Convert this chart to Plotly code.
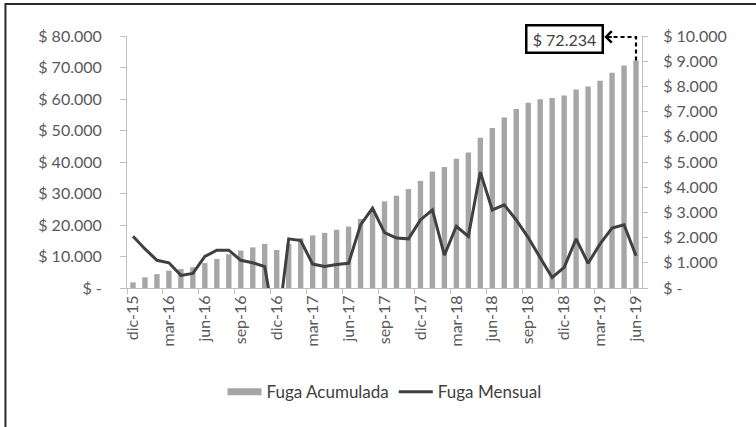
import plotly.graph_objects as go

# Months from dic-15 to jun-19
months = [
    "dic-15", "ene-16", "feb-16", "mar-16", "abr-16", "may-16", "jun-16", "jul-16",
    "ago-16", "sep-16", "oct-16", "nov-16", "dic-16", "ene-17", "feb-17", "mar-17",
    "abr-17", "may-17", "jun-17", "jul-17", "ago-17", "sep-17", "oct-17", "nov-17",
    "dic-17", "ene-18", "feb-18", "mar-18", "abr-18", "may-18", "jun-18", "jul-18",
    "ago-18", "sep-18", "oct-18", "nov-18", "dic-18", "ene-19", "feb-19", "mar-19",
    "abr-19", "may-19", "jun-19",
]

# Accumulated capital flight (left axis)
fuga_acumulada = [
    1800, 3400, 4400, 5500, 6000, 6600, 7900, 9200, 10700, 11900, 12900, 14000,
    12100, 14000, 15800, 16700, 17500, 18500, 19500, 21900, 25000, 27500, 29300,
    31400, 34000, 37000, 38400, 41000, 43000, 47700, 50800, 54100, 56800, 58800,
    59900, 60300, 61100, 63000, 64000, 65800, 68300, 70600, 72234,
]

# Monthly capital flight (right axis)
fuga_mensual = [
    2050, 1550, 1100, 1000, 500, 580, 1250, 1500, 1500, 1100, 1000, 850,
    -1900, 1950, 1880, 950, 850, 930, 980, 2500, 3170, 2200, 1980, 1950,
    2700, 3100, 1300, 2450, 2050, 4600, 3100, 3300, 2700, 2000, 1200, 420,
    820, 1950, 980, 1750, 2380, 2510, 1280,
]

left_ticks = list(range(0, 80001, 10000))
right_ticks = list(range(0, 10001, 1000))


def money(v):
    return "$ -" if v == 0 else "$ " + f"{v:,}".replace(",", ".")


idx = list(range(len(months)))
label_step = 3

FONT = "Lato"
AXIS_GREY = "#BFBFBF"
TEXT_GREY = "#595959"

fig = go.Figure()

fig.add_trace(go.Bar(
    x=idx, y=fuga_acumulada, name="Fuga Acumulada",
    marker=dict(color="#A6A6A6", line=dict(width=0)),
    width=0.45, showlegend=False, yaxis="y",
))
# legend swatch for the bars (wide grey band)
fig.add_trace(go.Scatter(
    x=[None], y=[None], mode="lines", name="Fuga Acumulada",
    line=dict(color="#A6A6A6", width=7), yaxis="y",
))
fig.add_trace(go.Scatter(
    x=idx, y=fuga_mensual, mode="lines", name="Fuga Mensual",
    line=dict(color="#404040", width=3), yaxis="y2",
))

# callout for the last accumulated value
last_i = idx[-1]
last_v = fuga_acumulada[-1]
y_top = 79700
box_x = last_i - 6
tip_x = last_i - 2.65

fig.add_shape(
    type="path", xref="x", yref="y",
    path=f"M {last_i},{last_v} L {last_i},{y_top} L {tip_x + 0.6},{y_top}",
    line=dict(color="black", width=2.2, dash="4px,3px"),
)
fig.add_annotation(
    x=tip_x, y=y_top, xref="x", yref="y", text="",
    showarrow=True, ax=9, ay=0, arrowhead=4, arrowsize=1.1,
    arrowwidth=2, arrowcolor="black",
)
fig.add_annotation(
    x=box_x, y=y_top - 800, xref="x", yref="y",
    text=money(last_v), showarrow=False,
    font=dict(family=FONT, size=16, color="#404040"),
    bordercolor="black", borderwidth=2.5, borderpad=2,
    bgcolor="white", width=70, height=21,
    xanchor="center", yanchor="middle",
)

# frame along the top and left edges
fig.add_shape(
    type="rect", xref="paper", yref="paper",
    x0=-0.236, x1=1.4, y0=-0.8, y1=1.127,
    line=dict(color="#2a2a2a", width=2), fillcolor="rgba(0,0,0,0)",
    layer="above",
)

fig.update_layout(
    width=756, height=427,
    margin=dict(l=127, r=114, t=36, b=139),
    paper_bgcolor="white", plot_bgcolor="white",
    font=dict(family=FONT, size=16, color=TEXT_GREY),
    bargap=0.55,
    xaxis=dict(
        range=[-0.5, len(months) - 0.5],
        tickmode="array",
        tickvals=idx[::label_step], ticktext=months[::label_step],
        tickangle=-90, ticks="",
        showline=True, linecolor=AXIS_GREY, linewidth=1,
        showgrid=False, zeroline=False,
        tickfont=dict(family=FONT, size=16, color=TEXT_GREY),
        minor=dict(
            tickmode="array",
            tickvals=[k - 0.5 for k in range(0, len(months), label_step)],
            ticks="outside", ticklen=5, tickcolor=AXIS_GREY, showgrid=False,
        ),
    ),
    yaxis=dict(
        range=[0, 80000], tickmode="array",
        tickvals=left_ticks, ticktext=[money(v) for v in left_ticks],
        ticks="outside", ticklen=6, tickcolor=AXIS_GREY,
        showline=True, linecolor=AXIS_GREY, linewidth=1,
        showgrid=False, zeroline=False, ticklabelstandoff=15,
        tickfont=dict(family=FONT, size=16, color=TEXT_GREY),
    ),
    yaxis2=dict(
        range=[0, 10000], tickmode="array", overlaying="y", side="right",
        tickvals=right_ticks, ticktext=[money(v) for v in right_ticks],
        ticks="outside", ticklen=5, tickcolor=AXIS_GREY,
        showline=True, linecolor=AXIS_GREY, linewidth=1,
        showgrid=False, zeroline=False, ticklabelstandoff=12,
        tickfont=dict(family=FONT, size=16, color=TEXT_GREY),
    ),
    legend=dict(
        orientation="h", x=0.5, xanchor="center", y=-0.413, yanchor="middle",
        font=dict(family=FONT, size=17, color="#404040"),
        itemwidth=34, bgcolor="rgba(0,0,0,0)",
    ),
)

fig.write_html("out.html")
